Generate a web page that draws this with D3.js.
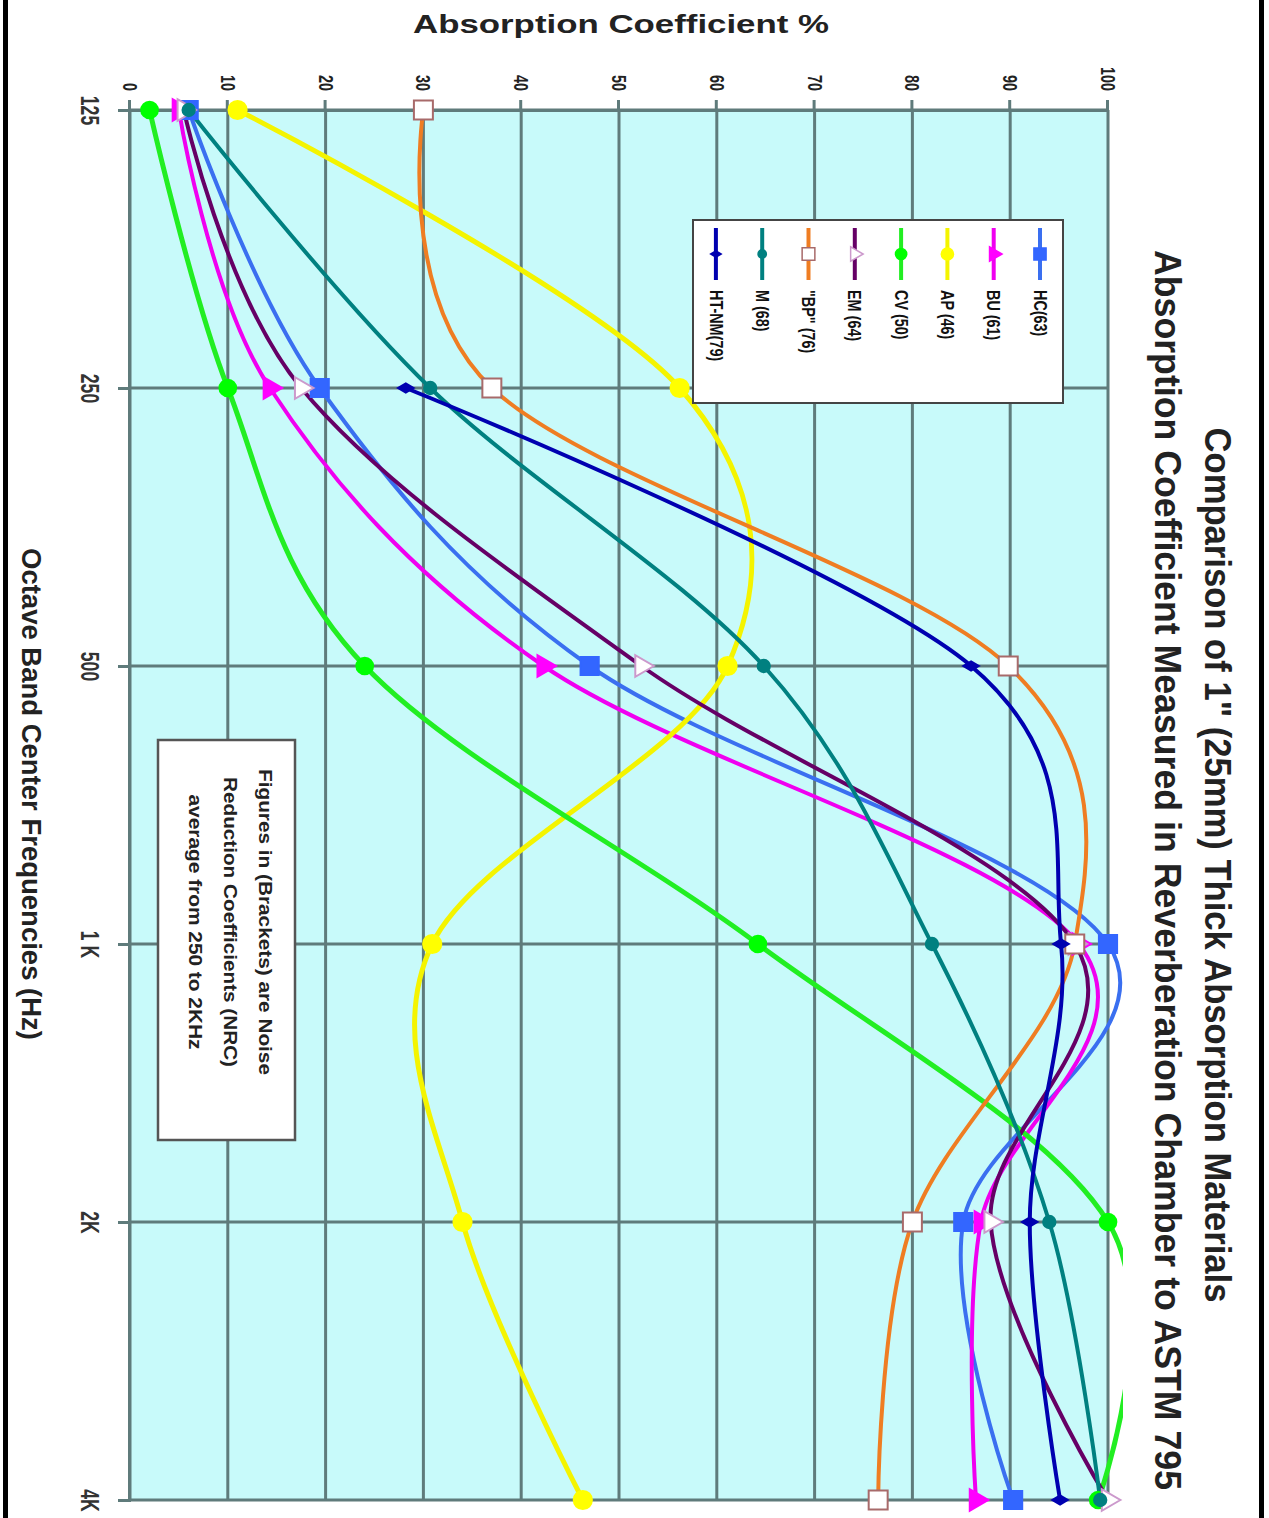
<!DOCTYPE html>
<html>
<head>
<meta charset="utf-8">
<script src="https://cdn.jsdelivr.net/npm/d3@7/dist/d3.min.js"></script>
<style>
  body { margin: 0; background: #fff; }
  svg { display: block; font-family: "Liberation Sans", Arial, sans-serif; }
</style>
</head>
<body>
<script>
// data (values in %)
const freqLabels = ["125", "250", "500", "1 K", "2K", "4K"];
const valueTicks = [0, 10, 20, 30, 40, 50, 60, 70, 80, 90, 100];
const seriesNames = ["HC(63)", "BU (61)", "AP (46)", "CV (50)", "EM (64)", "\"BP\" (76)", "M (68)", "HT-NM(79)"];

const hcValues = [6, 19.4, 47, 100, 85.2, 90.3];
const buValues = [5, 14.3, 42.3, 97, 87, 86.5];
const apValues = [11, 56.2, 61.1, 30.9, 34, 46.3];
const cvValues = [2, 10, 24, 64.2, 100, 99];
const emValues = [5.5, 17.5, 52.3, 96.6, 88, 100];
const bpValues = [30, 37, 89.8, 96.6, 80, 76.5];
const mValues = [6, 30.7, 64.8, 82, 94, 99.2];
const htValues = [null, 28.2, 86, 95.2, 92, 95.1];

const annotation = ["Figures in (Brackets) are Noise", "Reduction Coefficients (NRC)", "average from 250 to 2KHz"];

const series = [
  { name: seriesNames[0], values: hcValues, color: "#3a6ff0", mk: d3.symbolSquare, size: 330, fill: "#3366ff", stroke: "#3366ff" },
  { name: seriesNames[1], values: buValues, color: "#f000f0", mk: d3.symbolTriangle, size: 200, fill: "#ff00ff", stroke: "#ff00ff" },
  { name: seriesNames[2], values: apValues, color: "#f4f400", mk: d3.symbolCircle, size: 260, fill: "#ffff00", stroke: "#ffff00", width: 5 },
  { name: seriesNames[3], values: cvValues, color: "#22ee22", mk: d3.symbolCircle, size: 220, fill: "#00ff00", stroke: "#00ff00", width: 5 },
  { name: seriesNames[4], values: emValues, color: "#660066", mk: d3.symbolTriangle, size: 200, fill: "#ffffff", stroke: "#cc99cc" },
  { name: seriesNames[5], values: bpValues, color: "#ef7d22", mk: d3.symbolSquare, size: 360, fill: "#ffffff", stroke: "#a86a6a" },
  { name: seriesNames[6], values: mValues, color: "#008080", mk: d3.symbolCircle, size: 120, fill: "#008080", stroke: "#008080" },
  { name: seriesNames[7], values: htValues, color: "#0000b0", mk: d3.symbolDiamond, size: 70, fill: "#0000b0", stroke: "#0000b0" }
];

const svgW = 1269, svgH = 1518;
// plot box on screen; the chart is drawn on its side (rotated 90deg clockwise)
const plotLeft = 130, plotRight = 1108, plotTop = 110, plotBottom = 1500;
const W = plotBottom - plotTop;   // frequency axis length
const H = plotRight - plotLeft;   // value axis length
const gridColor = "#5f7b7b";

const svg = d3.select("body").append("svg")
  .attr("width", svgW)
  .attr("height", svgH);

svg.append("rect").attr("width", svgW).attr("height", svgH).attr("fill", "#fff");
// black frame edges of the scan
svg.append("rect").attr("x", 3).attr("y", 0).attr("width", 5).attr("height", svgH).attr("fill", "#000");
svg.append("rect").attr("x", 1259).attr("y", 0).attr("width", 5).attr("height", svgH).attr("fill", "#000");

const g = svg.append("g")
  .attr("transform", `translate(${plotRight},${plotTop}) rotate(90)`);

const x = d3.scalePoint().domain(freqLabels).range([0, W]);
const y = d3.scaleLinear().domain([0, 100]).range([H, 0]);

// squeeze text to a share of its natural length (the scan is stretched)
function squeeze(sel, k) {
  sel.each(function () {
    const len = this.getComputedTextLength();
    d3.select(this).attr("textLength", len * k).attr("lengthAdjust", "spacingAndGlyphs");
  });
}

// lines may run a little past the 100 line before being cut
g.append("defs").append("clipPath").attr("id", "plotClip")
  .append("rect").attr("y", -15).attr("width", W).attr("height", H + 15);

g.append("rect")
  .attr("width", W)
  .attr("height", H)
  .attr("fill", "#c8fafa");

// grid
g.append("g").selectAll("line")
  .data(valueTicks)
  .join("line")
  .attr("x1", 0).attr("x2", W)
  .attr("y1", d => y(d)).attr("y2", d => y(d))
  .attr("stroke", gridColor)
  .attr("stroke-width", 3);

g.append("g").selectAll("line")
  .data(freqLabels)
  .join("line")
  .attr("x1", d => x(d)).attr("x2", d => x(d))
  .attr("y1", 0).attr("y2", H)
  .attr("stroke", gridColor)
  .attr("stroke-width", 3);

// axes
const yAxis = g.append("g")
  .call(d3.axisLeft(y).tickValues(valueTicks).tickSize(10).tickPadding(9).tickFormat(d3.format("d")));
const xAxis = g.append("g")
  .attr("transform", `translate(0,${H})`)
  .call(d3.axisBottom(x).tickSize(12).tickPadding(19));

[yAxis, xAxis].forEach(ax => {
  ax.select(".domain").attr("stroke", gridColor).attr("stroke-width", 3);
  ax.selectAll(".tick line").attr("stroke", gridColor).attr("stroke-width", 3);
});

yAxis.selectAll("text")
  .attr("fill", "#222")
  .style("font-size", "20px")
  .style("font-weight", "bold")
  .call(squeeze, 0.72);

xAxis.selectAll("text")
  .attr("fill", "#333")
  .style("font-size", "26px")
  .style("font-weight", "bold")
  .call(squeeze, 0.68);

// lines
const line = d3.line()
  .defined(d => d.v != null)
  .x(d => x(d.f))
  .y(d => y(d.v))
  .curve(d3.curveCatmullRom.alpha(0));

const pts = s => s.values.map((v, i) => ({ f: freqLabels[i], v: v }));

g.append("g").attr("clip-path", "url(#plotClip)")
  .selectAll("path")
  .data(series)
  .join("path")
  .attr("d", s => line(pts(s)))
  .attr("fill", "none")
  .attr("stroke", s => s.color)
  .attr("stroke-width", s => s.width || 4)
  .attr("stroke-linejoin", "round");

// markers
series.forEach(s => {
  g.append("g").selectAll("path")
    .data(pts(s).filter(d => d.v != null))
    .join("path")
    .attr("transform", d => `translate(${x(d.f)},${y(d.v)})`)
    .attr("d", d3.symbol().type(s.mk).size(s.size))
    .attr("fill", s.fill)
    .attr("stroke", s.stroke)
    .attr("stroke-width", 2);
});

// legend
const legend = g.append("g").attr("transform", "translate(110,45)");
legend.append("rect")
  .attr("width", 183).attr("height", 370)
  .attr("fill", "#fff")
  .attr("stroke", "#444")
  .attr("stroke-width", 2);

const item = legend.selectAll(".item")
  .data(series)
  .join("g")
  .attr("class", "item")
  .attr("transform", (s, i) => `translate(0,${23 + i * 46.3})`);

item.append("line")
  .attr("x1", 8).attr("x2", 60)
  .attr("stroke", s => s.color)
  .attr("stroke-width", 4);
item.append("path")
  .attr("transform", "translate(34,0)")
  .attr("d", s => d3.symbol().type(s.mk).size(s.size * 0.45)())
  .attr("fill", s => s.fill)
  .attr("stroke", s => s.stroke)
  .attr("stroke-width", 1.5);
item.append("text")
  .attr("x", 70)
  .attr("dy", "0.35em")
  .attr("fill", "#111")
  .style("font-size", "18px")
  .style("font-weight", "bold")
  .text(s => s.name)
  .call(squeeze, 0.8);

// note box
const note = g.append("g").attr("transform", "translate(630,813)");
note.append("rect")
  .attr("width", 400).attr("height", 137)
  .attr("fill", "#fff")
  .attr("stroke", "#555")
  .attr("stroke-width", 2.5);
note.selectAll("text")
  .data(annotation)
  .join("text")
  .attr("x", 182)
  .attr("y", (d, i) => 30 + i * 35)
  .attr("dy", "0.35em")
  .attr("text-anchor", "middle")
  .attr("fill", "#222")
  .style("font-size", "18px")
  .style("font-weight", "bold")
  .attr("textLength", (d, i) => [306, 290, 255][i])
  .attr("lengthAdjust", "spacingAndGlyphs")
  .text(d => d);

// titles
g.append("text")
  .attr("x", 755).attr("y", -97)
  .attr("text-anchor", "middle")
  .style("font-size", "37px")
  .style("font-weight", "bold")
  .attr("fill", "#222")
  .attr("textLength", 875)
  .attr("lengthAdjust", "spacingAndGlyphs")
  .text("Comparison of 1\" (25mm) Thick Absorption Materials");

g.append("text")
  .attr("x", 760).attr("y", -47)
  .attr("text-anchor", "middle")
  .style("font-size", "37px")
  .style("font-weight", "bold")
  .attr("fill", "#222")
  .attr("textLength", 1240)
  .attr("lengthAdjust", "spacingAndGlyphs")
  .text("Absorption Coefficient Measured in Reverberation Chamber to ASTM 795");

g.append("text")
  .attr("x", 684).attr("y", 1086)
  .attr("text-anchor", "middle")
  .style("font-size", "27px")
  .style("font-weight", "bold")
  .attr("fill", "#222")
  .attr("textLength", 492)
  .attr("lengthAdjust", "spacingAndGlyphs")
  .text("Octave Band Center Frequencies (Hz)");

svg.append("text")
  .attr("x", 621).attr("y", 33)
  .attr("text-anchor", "middle")
  .style("font-size", "26px")
  .style("font-weight", "bold")
  .attr("fill", "#222")
  .attr("textLength", 416)
  .attr("lengthAdjust", "spacingAndGlyphs")
  .text("Absorption Coefficient %");
</script>
</body>
</html>
